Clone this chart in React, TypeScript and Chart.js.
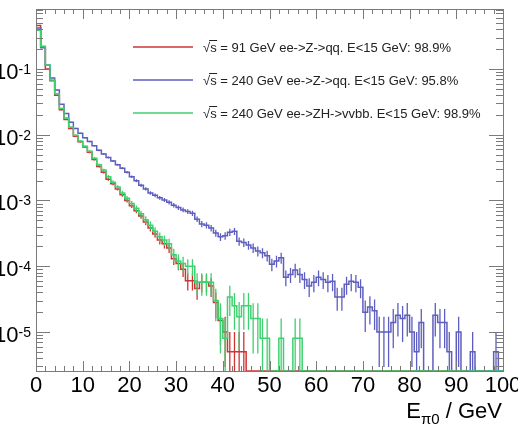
import React, { useEffect, useRef } from "react";
import { Chart, registerables } from "chart.js";

Chart.register(...registerables);

// ---------- data ----------
const binLowEdges: number[] = Array.from({ length: 100 }, (_, i) => i);
const BIN_WIDTH = 1;

const ee91qq: number[] = [
  0.46, 0.22, 0.10, 0.066, 0.040, 0.024, 0.017, 0.0125, 0.0095, 0.0078,
  0.0065, 0.0054, 0.0042, 0.0033, 0.0027, 0.0021, 0.0018, 0.0015, 0.00122, 0.001,
  0.00083, 0.0007, 0.00058, 0.00047, 0.00038, 0.00031, 0.00025, 0.00022, 0.00019, 0.00013,
  0.00011, 0.00009, 0.00006, 0.00006, 0.000046, 0.000057, 0.000057, 0.00005, 0.000028, 0.000015,
  0.00001, 0.000005, 0.000005, 0.000005, 0.000005, 0, 0, 0, 0, 0,
  0, 0, 0, 0, 0, 0, 0, 0, 0, 0,
  0, 0, 0, 0, 0, 0, 0, 0, 0, 0,
  0, 0, 0, 0, 0, 0, 0, 0, 0, 0,
  0, 0, 0, 0, 0, 0, 0, 0, 0, 0,
  0, 0, 0, 0, 0, 0, 0, 0, 0, 0,
];

const ee240qq: number[] = [
  0.42, 0.21, 0.115, 0.073, 0.048, 0.029, 0.021, 0.0155, 0.0125, 0.0105,
  0.009, 0.0079, 0.0068, 0.0058, 0.0051, 0.0045, 0.004, 0.0035, 0.0031, 0.0027,
  0.0023, 0.002, 0.0017, 0.0015, 0.0013, 0.0012, 0.0011, 0.00102, 0.00094, 0.00085,
  0.00078, 0.00072, 0.00068, 0.00064, 0.00052, 0.00044, 0.00042, 0.00038, 0.00032, 0.00028,
  0.00029, 0.00033, 0.00034, 0.00024, 0.00023, 0.00021, 0.00019, 0.00017, 0.00016, 0.000145,
  0.000107, 0.00012, 0.000135, 0.000068, 0.000075, 0.000088, 0.000075, 0.000063, 0.00005, 0.000057,
  0.000068, 0.000063, 0.000057, 0.000059, 0.000034, 0.000034, 0.000053, 0.000059, 0.000057, 0.000048,
  0.00002, 0.000024, 0.000021, 0.00001, 0.00001, 0.00001, 0.000014, 0.000018, 0.000016, 0.000018,
  0.00001, 0.000005, 0.000014, 0, 0, 0.000018, 0.000014, 0.000014, 0.000005, 0,
  0.00001, 0, 0, 0.000005, 0, 0, 0, 0, 0.000005, 0,
];

const ee240ZHvvbb: number[] = [
  0.39, 0.22, 0.115, 0.068, 0.042, 0.025, 0.018, 0.013, 0.0098, 0.008,
  0.0067, 0.0056, 0.0044, 0.0035, 0.0029, 0.0023, 0.0019, 0.0016, 0.0013, 0.00108,
  0.0009, 0.00076, 0.00063, 0.00051, 0.00042, 0.00034, 0.00028, 0.00025, 0.00022, 0.00015,
  0.00012, 0.00011, 0.0001, 0.0001, 0.000057, 0.000057, 0.000057, 0.000057, 0.00003, 0.000016,
  0.000008, 0.000034, 0.000025, 0.000017, 0.000025, 0.000025, 0.000016, 0.000016, 0.000008, 0.000008,
  0, 0, 0.000008, 0, 0, 0.000008, 0.000008, 0, 0, 0,
  0, 0, 0, 0, 0, 0, 0, 0, 0, 0,
  0, 0, 0, 0, 0, 0, 0, 0, 0, 0,
  0, 0, 0, 0, 0, 0, 0, 0, 0, 0,
  0, 0, 0, 0, 0, 0, 0, 0, 0, 0,
];

// weight of a single event in each normalised histogram (for Poisson error bars)
const weight91qq = 5e-6;
const weight240qq = 5e-6;
const weight240ZH = 8e-6;

const xTickValues: number[] = [0, 10, 20, 30, 40, 50, 60, 70, 80, 90, 100];
const xTickLabels: string[] = ["0", "10", "20", "30", "40", "50", "60", "70", "80", "90", "100"];
const yTickExponents: number[] = [-1, -2, -3, -4, -5];

const legendLabels: string[] = [
  " = 91 GeV ee->Z->qq. E<15 GeV: 98.9%",
  " = 240 GeV ee->Z->qq. E<15 GeV: 95.8%",
  " = 240 GeV ee->ZH->vvbb. E<15 GeV: 98.9%",
];

const Y_MIN = 2.55e-6;
const Y_MAX = 0.818;

const RED = "#cf3434";
const BLUE = "#5e5ec0";
const GREEN = "#3fd070";
const FRAME = "#7a7a7a";
const FONT = "'Liberation Sans', Arial, Helvetica, sans-serif";

const series = [
  { values: ee91qq, weight: weight91qq, color: RED, label: legendLabels[0] },
  { values: ee240qq, weight: weight240qq, color: BLUE, label: legendLabels[1] },
  { values: ee240ZHvvbb, weight: weight240ZH, color: GREEN, label: legendLabels[2] },
];

function histPoints(values: number[]) {
  const pts: { x: number; y: number }[] = [{ x: binLowEdges[0], y: Y_MIN }];
  values.forEach((v, i) => pts.push({ x: binLowEdges[i], y: v > 0 ? v : Y_MIN }));
  pts.push({ x: binLowEdges[values.length - 1] + BIN_WIDTH, y: Y_MIN });
  return pts;
}

const errorBarPlugin = {
  id: "errorBars",
  afterDatasetDraw(chart: any, args: any) {
    const ds = chart.data.datasets[args.index];
    const vals: number[] = ds.binValues;
    const w: number = ds.eventWeight;
    const { ctx, chartArea } = chart;
    const xs = chart.scales.x;
    const ys = chart.scales.y;
    ctx.save();
    ctx.beginPath();
    ctx.rect(chartArea.left, chartArea.top, chartArea.right - chartArea.left, chartArea.bottom - chartArea.top);
    ctx.clip();
    ctx.strokeStyle = ds.borderColor;
    ctx.lineWidth = 1.3;
    ctx.beginPath();
    vals.forEach((v, i) => {
      if (v <= 0) return;
      const err = Math.sqrt(v * w);
      const cx = xs.getPixelForValue(binLowEdges[i] + BIN_WIDTH / 2);
      const lo = v - err;
      const yLo = lo > Y_MIN ? ys.getPixelForValue(lo) : chartArea.bottom;
      const yHi = ys.getPixelForValue(v + err);
      ctx.moveTo(cx, yLo);
      ctx.lineTo(cx, yHi);
    });
    ctx.stroke();
    ctx.restore();
  },
};

const rootFramePlugin = {
  id: "rootFrame",
  afterDraw(chart: any) {
    const { ctx, chartArea } = chart;
    const xs = chart.scales.x;
    const ys = chart.scales.y;
    const L = chartArea.left, R = chartArea.right, T = chartArea.top, B = chartArea.bottom;
    ctx.save();
    // frame
    ctx.strokeStyle = FRAME;
    ctx.lineWidth = 1;
    ctx.strokeRect(Math.round(L) + 0.5, Math.round(T) + 0.5, Math.round(R - L), Math.round(B - T));
    // x ticks
    ctx.beginPath();
    for (let v = 0; v <= 100; v += 2) {
      const px = Math.round(xs.getPixelForValue(v)) + 0.5;
      const len = v % 10 === 0 ? 10 : 5;
      ctx.moveTo(px, B);
      ctx.lineTo(px, B - len);
      ctx.moveTo(px, T);
      ctx.lineTo(px, T + len);
    }
    // y ticks (log)
    for (let d = -7; d <= 0; d++) {
      for (let m = 1; m <= 9; m++) {
        const v = m * Math.pow(10, d);
        if (v < Y_MIN || v > Y_MAX) continue;
        const py = Math.round(ys.getPixelForValue(v)) + 0.5;
        const len = m === 1 ? 14 : 7;
        ctx.moveTo(L, py);
        ctx.lineTo(L + len, py);
        ctx.moveTo(R, py);
        ctx.lineTo(R - len, py);
      }
    }
    ctx.stroke();

    // x tick labels
    ctx.fillStyle = "#000";
    ctx.font = `22px ${FONT}`;
    ctx.textAlign = "center";
    ctx.textBaseline = "alphabetic";
    xTickValues.forEach((v, i) => {
      ctx.fillText(xTickLabels[i], xs.getPixelForValue(v), 392);
    });

    // y tick labels: 10^e
    yTickExponents.forEach((e) => {
      const py = ys.getPixelForValue(Math.pow(10, e));
      const sup = "-" + Math.abs(e);
      ctx.font = `14px ${FONT}`;
      const supW = ctx.measureText(sup).width;
      ctx.textAlign = "right";
      ctx.fillText(sup, 31, py + 5);
      ctx.font = `22px ${FONT}`;
      ctx.fillText("10", 31 - supW, py + 10);
    });

    // x axis title  E_{pi0} / GeV
    ctx.textAlign = "left";
    ctx.font = `22px ${FONT}`;
    const wE = ctx.measureText("E").width;
    const wRest = ctx.measureText(" / GeV").width;
    ctx.font = `15px ${FONT}`;
    const wSub = ctx.measureText("π0").width;
    const xEnd = 502;
    const x0 = xEnd - wRest - wSub - wE;
    ctx.font = `22px ${FONT}`;
    ctx.fillText("E", x0, 418);
    ctx.font = `15px ${FONT}`;
    ctx.fillText("π0", x0 + wE, 424);
    ctx.font = `22px ${FONT}`;
    ctx.fillText(" / GeV", x0 + wE + wSub, 418);

    // legend
    const rowsY = [47, 80, 113];
    series.forEach((s, i) => {
      const y = rowsY[i];
      ctx.strokeStyle = s.color;
      ctx.lineWidth = 1.5;
      ctx.beginPath();
      ctx.moveTo(133, y);
      ctx.lineTo(193, y);
      ctx.stroke();
      ctx.fillStyle = "#222";
      ctx.font = `13px ${FONT}`;
      ctx.textAlign = "left";
      const base = y + 5;
      let x = 203;
      const wr = ctx.measureText("√").width;
      ctx.fillText("√", x, base);
      x += wr;
      const ws = ctx.measureText("s").width;
      ctx.fillText("s", x, base);
      ctx.strokeStyle = "#222";
      ctx.lineWidth = 1;
      ctx.beginPath();
      ctx.moveTo(x - 1, base - 11.5);
      ctx.lineTo(x + ws + 0.5, base - 11.5);
      ctx.stroke();
      x += ws;
      ctx.fillText(s.label, x, base);
    });
    ctx.restore();
  },
};

export default function App() {
  const ref = useRef<HTMLCanvasElement | null>(null);
  useEffect(() => {
    document.body.style.margin = "0";
    const canvas = ref.current;
    if (!canvas) return;
    // green on top, then blue, then red (lower index drawn last)
    const order = [2, 1, 0];
    const chart = new Chart(canvas, {
      type: "line",
      data: {
        datasets: order.map((k) => ({
          label: series[k].label,
          data: histPoints(series[k].values),
          borderColor: series[k].color,
          borderWidth: 1.5,
          stepped: true,
          pointRadius: 0,
          fill: false,
          tension: 0,
          binValues: series[k].values,
          eventWeight: series[k].weight,
        })) as any,
      },
      options: {
        animation: false,
        responsive: false,
        maintainAspectRatio: false,
        layout: { padding: { left: 36, right: 15, top: 9, bottom: 63 } },
        scales: {
          x: { type: "linear", min: 0, max: 100, display: false },
          y: { type: "logarithmic", min: Y_MIN, max: Y_MAX, display: false },
        },
        plugins: { legend: { display: false }, tooltip: { enabled: false } },
        elements: { point: { radius: 0 } },
      },
      plugins: [errorBarPlugin, rootFramePlugin],
    });
    return () => chart.destroy();
  }, []);
  return <canvas ref={ref} width={518} height={434} style={{ display: "block" }} />;
}
